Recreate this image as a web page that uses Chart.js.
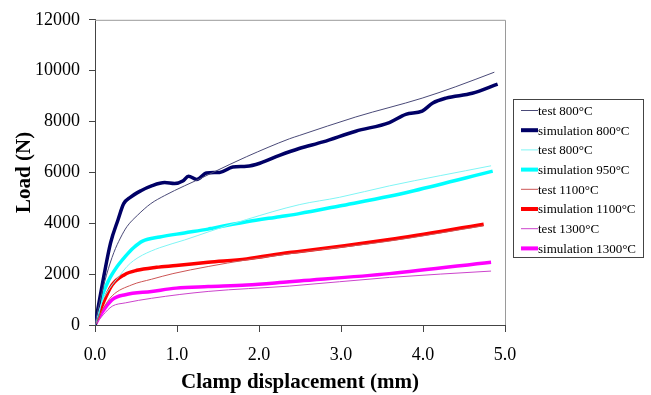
<!DOCTYPE html>
<html>
<head>
<meta charset="utf-8">
<script src="https://cdn.jsdelivr.net/npm/chart.js@4/dist/chart.umd.min.js"></script>
<style>
  html, body { margin: 0; padding: 0; background: #fff; }
  #wrap { width: 651px; height: 395px; }
</style>
</head>
<body>
<div id="wrap"><canvas id="loadChart"></canvas></div>
<script>
// load vs clamp displacement
var labels = [
    "test 800\u00b0C",
    "simulation 800\u00b0C",
    "test 800\u00b0C",
    "simulation 950\u00b0C",
    "test 1100\u00b0C",
    "simulation 1100\u00b0C",
    "test 1300\u00b0C",
    "simulation 1300\u00b0C"
];

var test800Disp = [0, 0.05, 0.14, 0.23, 0.31, 0.39, 0.52, 0.68, 0.85, 1.09, 1.28, 1.44, 1.85, 2.37, 2.49, 3.18, 3.99, 4.40, 4.87];
var test800Load = [0, 800, 1960, 2850, 3420, 3870, 4320, 4770, 5090, 5470, 5750, 6000, 6620, 7320, 7450, 8180, 8920, 9370, 9940];

var sim800Disp = [0, 0.05, 0.11, 0.19, 0.28, 0.35, 0.43, 0.56, 0.69, 0.85, 0.97, 1.07, 1.14, 1.24, 1.36, 1.52, 1.68, 1.85, 2.01, 2.25, 2.49, 2.78, 3.18, 3.59, 3.79, 3.99, 4.12, 4.28, 4.60, 4.91];
var sim800Load = [0, 900, 1960, 3230, 4130, 4770, 5020, 5280, 5470, 5600, 5560, 5660, 5850, 5720, 5980, 6000, 6210, 6240, 6360, 6670, 6940, 7200, 7620, 7960, 8280, 8410, 8730, 8920, 9110, 9470];

var test800bDisp = [0, 0.085, 0.18, 0.29, 0.39, 0.47, 0.58, 0.79, 1.09, 1.40, 1.85, 2.49, 2.98, 3.59, 4.83];
var test800bLoad = [0, 900, 1450, 1900, 2300, 2530, 2750, 3040, 3340, 3680, 4150, 4730, 5020, 5470, 6260];

var sim950Disp = [0, 0.085, 0.167, 0.27, 0.37, 0.47, 0.58, 0.79, 1.09, 1.38, 1.44, 1.85, 2.25, 2.49, 2.98, 3.59, 3.89, 4.85];
var sim950Load = [0, 1120, 1760, 2300, 2700, 3040, 3300, 3460, 3620, 3770, 3810, 4060, 4260, 4380, 4680, 5060, 5280, 6050];

var test1100Disp = [0, 0.10, 0.21, 0.45, 0.69, 0.95, 1.38, 1.85, 2.49, 3.59, 4.74];
var test1100Load = [0, 650, 1150, 1580, 1800, 2020, 2300, 2560, 2850, 3300, 3900];

var sim1100Disp = [0, 0.085, 0.21, 0.36, 0.51, 0.75, 0.99, 1.38, 1.85, 2.37, 2.49, 3.59, 4.74];
var sim1100Load = [0, 750, 1580, 1980, 2150, 2270, 2340, 2470, 2600, 2850, 2890, 3360, 3960];

var test1300Disp = [0, 0.10, 0.21, 0.37, 0.69, 1.38, 2.37, 3.59, 4.83];
var test1300Load = [0, 400, 740, 870, 1050, 1320, 1530, 1870, 2120];

var sim1300Disp = [0, 0.085, 0.21, 0.37, 0.69, 0.99, 1.38, 1.85, 2.37, 2.49, 3.59, 4.83];
var sim1300Load = [0, 490, 1000, 1190, 1320, 1450, 1510, 1570, 1700, 1730, 2020, 2470];

var colors = ["#4a4a78", "#000066", "#7ff5f5", "#00ffff", "#cc5555", "#ff0000", "#cc44cc", "#ff00ff"];
var widths = [1, 3.5, 1, 3.5, 1, 3.5, 1, 3.5];

function pts(xs, ys) {
    return xs.map(function (x, i) { return {x: x, y: ys[i]}; });
}

var allSeries = [
    pts(test800Disp, test800Load),
    pts(sim800Disp, sim800Load),
    pts(test800bDisp, test800bLoad),
    pts(sim950Disp, sim950Load),
    pts(test1100Disp, test1100Load),
    pts(sim1100Disp, sim1100Load),
    pts(test1300Disp, test1300Load),
    pts(sim1300Disp, sim1300Load)
];

// thin test lines sit over the thick ones
var datasets = allSeries.map(function (d, i) {
    return {
        label: labels[i],
        data: d,
        borderColor: colors[i],
        backgroundColor: colors[i],
        borderWidth: widths[i],
        pointRadius: 0,
        cubicInterpolationMode: 'monotone',
        order: widths[i] > 2 ? 1 : 0
    };
});

var serif = "'Liberation Serif', 'Times New Roman', serif";

// grey frame on top/right + boxed legend
var framePlugin = {
    id: 'frame',
    beforeDatasetsDraw: function (chart) {
        var a = chart.chartArea, c = chart.ctx;
        c.save();
        c.strokeStyle = '#9a9a9a';
        c.lineWidth = 1;
        c.beginPath();
        c.moveTo(a.left, a.top + 0.5);
        c.lineTo(a.right + 0.5, a.top + 0.5);
        c.lineTo(a.right + 0.5, a.bottom);
        c.stroke();
        c.restore();
    },
    afterDraw: function (chart) {
        var c = chart.ctx;
        c.save();
        c.strokeStyle = '#444';
        c.lineWidth = 1;
        c.strokeRect(513.5, 99.5, 130, 158);
        c.font = "13px " + serif;
        c.textBaseline = 'middle';
        c.fillStyle = '#000';
        chart.data.datasets.forEach(function (ds, i) {
            var y = 110.5 + i * 19.7;
            c.strokeStyle = ds.borderColor;
            c.lineWidth = ds.borderWidth > 2 ? 4 : 1;
            c.beginPath();
            c.moveTo(521, y);
            c.lineTo(538, y);
            c.stroke();
            c.fillText(ds.label, 538, y + 1);
        });
        c.restore();
    }
};

var ctx = document.getElementById('loadChart');
var chart = new Chart(ctx, {
    type: 'line',
    data: {datasets: datasets},
    options: {
        responsive: true,
        maintainAspectRatio: false,
        animation: false,
        layout: {padding: {top: 13, right: 146, left: 0, bottom: 0}},
        plugins: {legend: {display: false}, tooltip: {enabled: false}},
        scales: {
            x: {
                type: 'linear',
                min: 0,
                max: 5,
                afterFit: function (s) { s.height = 70; },
                border: {color: '#444', width: 1},
                grid: {drawOnChartArea: false, tickLength: 7, color: '#444'},
                ticks: {
                    stepSize: 1,
                    padding: 12,
                    color: '#000',
                    font: {family: serif, size: 18},
                    callback: function (v) { return v.toFixed(1); }
                },
                title: {
                    display: true,
                    text: 'Clamp displacement (mm)',
                    color: '#000',
                    padding: {top: 0, bottom: 0},
                    font: {family: serif, size: 21, weight: 'bold'}
                }
            },
            y: {
                min: 0,
                max: 12000,
                afterFit: function (s) { s.width = 95; },
                border: {color: '#444', width: 1},
                grid: {drawOnChartArea: false, tickLength: 6, color: '#444'},
                ticks: {
                    stepSize: 2000,
                    padding: 9,
                    color: '#000',
                    font: {family: serif, size: 18},
                    callback: function (v) { return String(v); }
                },
                title: {
                    display: true,
                    text: 'Load (N)',
                    color: '#000',
                    padding: {top: 12, bottom: 0},
                    font: {family: serif, size: 21, weight: 'bold'}
                }
            }
        }
    },
    plugins: [framePlugin]
});
</script>
</body>
</html>
